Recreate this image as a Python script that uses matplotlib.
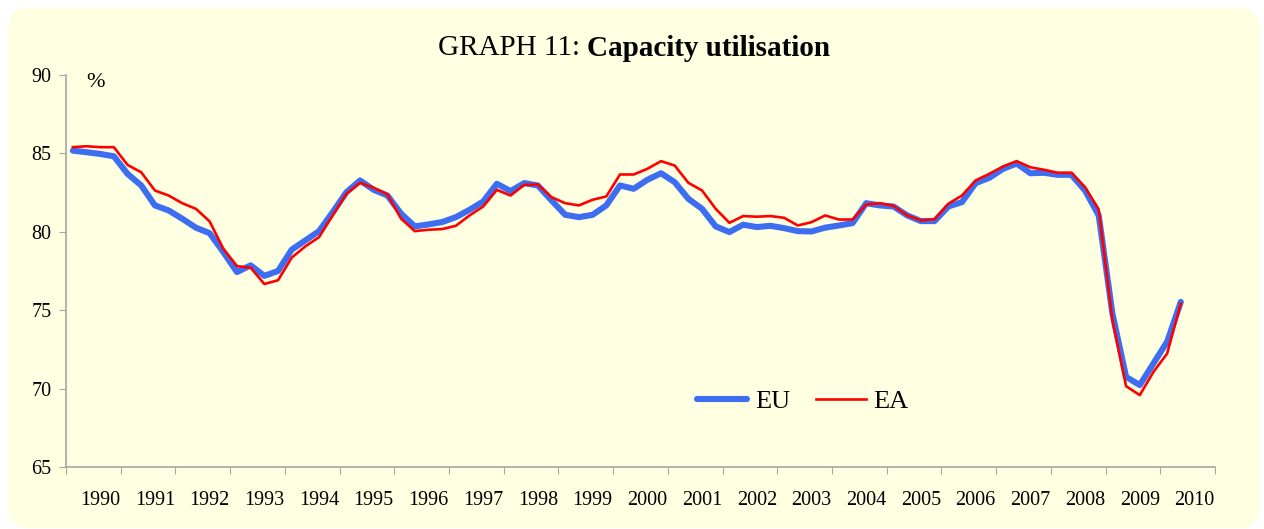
import numpy as np
import matplotlib
matplotlib.use("Agg")
import matplotlib.pyplot as plt
from matplotlib.patches import FancyBboxPatch
from matplotlib.transforms import IdentityTransform

# ================================================================
# Data (quarterly)
# ================================================================
eu = [85.18, 85.08, 84.97, 84.82, 83.70, 82.96, 81.69, 81.37, 80.84, 80.27,
      79.92, 78.72, 77.44, 77.87, 77.20, 77.51, 78.87, 79.46, 80.05, 81.26,
      82.53, 83.28, 82.68, 82.32, 81.16, 80.35, 80.48, 80.63, 80.94, 81.41,
      81.94, 83.07, 82.60, 83.11, 82.96, 82.00, 81.09, 80.94, 81.09, 81.69,
      82.96, 82.75, 83.32, 83.74, 83.17, 82.11, 81.47, 80.35, 79.99, 80.46,
      80.31, 80.39, 80.24, 80.05, 80.03, 80.27, 80.41, 80.56, 81.83, 81.69,
      81.62, 81.05, 80.69, 80.69, 81.62, 81.90, 83.11, 83.45, 84.02, 84.36,
      83.74, 83.77, 83.64, 83.64, 82.64, 81.05, 74.80, 70.76, 70.24, 71.62,
      73.00, 75.54]

ea = [85.40, 85.46, 85.40, 85.40, 84.27, 83.80, 82.64, 82.32, 81.83, 81.47,
      80.67, 78.93, 77.82, 77.72, 76.68, 76.92, 78.36, 79.08, 79.67, 81.05,
      82.43, 83.13, 82.81, 82.39, 80.84, 80.05, 80.14, 80.18, 80.39, 81.05,
      81.62, 82.68, 82.32, 83.00, 83.02, 82.21, 81.83, 81.69, 82.05, 82.26,
      83.66, 83.66, 84.02, 84.51, 84.23, 83.13, 82.64, 81.47, 80.58, 81.01,
      80.97, 81.01, 80.90, 80.41, 80.62, 81.05, 80.79, 80.79, 81.75, 81.83,
      81.66, 81.05, 80.73, 80.81, 81.79, 82.32, 83.28, 83.70, 84.17, 84.51,
      84.12, 83.96, 83.77, 83.77, 82.85, 81.43, 74.37, 70.17, 69.60, 71.08,
      72.25, 75.43]

years = [str(y) for y in range(1990, 2011)]
y_ticks = [65, 70, 75, 80, 85, 90]

# ================================================================
# Plot
# ================================================================
plt.rcParams['font.family'] = ['Liberation Serif', 'DejaVu Serif']

W, H, DPI = 1264, 529, 100
fig = plt.figure(figsize=(W / DPI, H / DPI), dpi=DPI, facecolor='white')

# rounded yellow panel (pixel coordinates), kept behind the axes
panel = FancyBboxPatch((8, 1), 1252, 520,
                       boxstyle="round,pad=0,rounding_size=22",
                       transform=IdentityTransform(),
                       facecolor='#FFFFE1', edgecolor='none', zorder=-10)
fig.patches.append(panel)

ax = fig.add_axes([66 / W, 1 - 467.3 / H, (1215 - 66) / W, (467.3 - 75) / H])
ax.set_facecolor('none')
ax.set_zorder(5)

n_slots = 4 * len(years)
x = np.arange(len(eu)) + 0.5

ax.plot(x, eu, color='#3D6EF2', linewidth=4.4, solid_capstyle='round',
        solid_joinstyle='round', label='EU', zorder=3)
ax.plot(x, ea, color='#FF0000', linewidth=1.9, label='EA', zorder=4)

ax.set_xlim(0, n_slots)
ax.set_ylim(65, 90)

ax.set_yticks(y_ticks)
ax.set_xticks(np.arange(0, n_slots + 1, 4))
ax.set_xticklabels([])
ax.set_xticks(np.arange(len(years)) * 4 + 2.5, minor=True)
ax.set_xticklabels(years, minor=True)

axis_grey = '#A6A6A6'
for side in ['top', 'right']:
    ax.spines[side].set_visible(False)
for side in ['left', 'bottom']:
    ax.spines[side].set_color(axis_grey)
    ax.spines[side].set_linewidth(1.2)

ax.tick_params(axis='y', which='major', length=5, color=axis_grey,
               labelsize=14.5, pad=5.5)
ax.tick_params(axis='x', which='major', length=5, color=axis_grey)
ax.tick_params(axis='x', which='minor', length=0, labelsize=14.5, pad=17)

ax.text(0.018, 1.005, '%', transform=ax.transAxes, fontsize=16,
        ha='left', va='top')

# title: regular prefix + bold remainder
fig.text(587 / W, 1 - 48 / H, 'GRAPH 11: ', fontsize=21, ha='right',
         va='center')
fig.text(587 / W, 1 - 48 / H, 'Capacity utilisation', fontsize=21,
         fontweight='bold', ha='left', va='center')

leg = ax.legend(loc='center', bbox_to_anchor=(803 / W, 1 - 401 / H),
                bbox_transform=fig.transFigure, ncol=2, frameon=False,
                fontsize=19, handlelength=1.9, handletextpad=0.3,
                columnspacing=0.95)

fig.savefig('out.png', dpi=DPI, facecolor='white')
